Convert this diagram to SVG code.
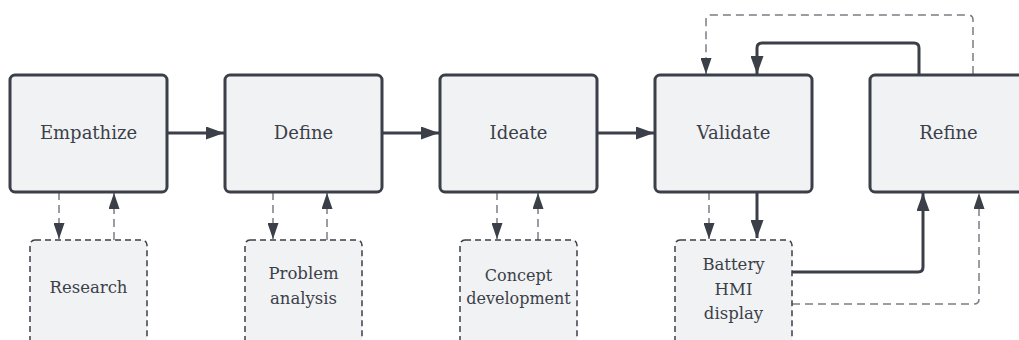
<svg xmlns="http://www.w3.org/2000/svg" width="1019" height="340" viewBox="0 0 1019 340">
<defs>
<style>
.main rect{fill:#f1f2f4;stroke:#3b3f48;stroke-width:3}
.sub rect{fill:#f1f2f4;stroke:#3b3f48;stroke-width:1.5;stroke-dasharray:6 4}
text{fill:#3b3f48;text-anchor:middle;font-family:"DejaVu Serif",serif}
.main text{font-size:18px}
.sub text{font-size:16.5px}
.sub text.sm{font-size:16px}
.solid{fill:none;stroke:#3b3f48;stroke-width:3;stroke-linejoin:round}
.dash{fill:none;stroke:#7b7e84;stroke-width:1.5;stroke-dasharray:8 5}
</style>
<marker id="ah" viewBox="0 0 18 13" refX="18" refY="6.5" markerWidth="18" markerHeight="13" markerUnits="userSpaceOnUse" orient="auto"><path d="M0,0L18,6.5L0,13Z" fill="#3b3f48"/></marker>
<marker id="ahs" viewBox="0 0 16 11" refX="16" refY="5.5" markerWidth="16" markerHeight="11" markerUnits="userSpaceOnUse" orient="auto"><path d="M0,0L16,5.5L0,11Z" fill="#3b3f48"/></marker>
</defs>
<g id="connectors">
<path class="solid" d="M167,133H224" marker-end="url(#ah)"/>
<path class="solid" d="M382,133H439" marker-end="url(#ah)"/>
<path class="solid" d="M597,133H654" marker-end="url(#ah)"/>
<path class="dash" d="M59,192V239" marker-end="url(#ahs)"/>
<path class="dash" d="M114,240V193" marker-end="url(#ahs)"/>
<path class="dash" d="M273,192V239" marker-end="url(#ahs)"/>
<path class="dash" d="M327,240V193" marker-end="url(#ahs)"/>
<path class="dash" d="M497,192V239" marker-end="url(#ahs)"/>
<path class="dash" d="M538,240V193" marker-end="url(#ahs)"/>
<path class="dash" d="M709,192V239" marker-end="url(#ahs)"/>
<path class="solid" d="M757,192V238" marker-end="url(#ah)"/>
<path class="solid" d="M919,74V48Q919,43 914,43H762Q757,43 757,48V74" marker-end="url(#ah)"/>
<path class="dash" d="M973,74V20Q973,15 968,15H711Q706,15 706,20V74" marker-end="url(#ahs)"/>
<path class="solid" d="M792,272H918Q923,272 923,267V193" marker-end="url(#ah)"/>
<path class="dash" d="M792,304H974Q979,304 979,299V193" marker-end="url(#ahs)"/>
</g>
<g id="empathize" class="main"><rect x="10" y="75" width="157" height="117" rx="5"/><text x="88.5" y="139">Empathize</text></g>
<g id="define" class="main"><rect x="225" y="75" width="157" height="117" rx="5"/><text x="303.5" y="139">Define</text></g>
<g id="ideate" class="main"><rect x="440" y="75" width="157" height="117" rx="5"/><text x="518.5" y="139">Ideate</text></g>
<g id="validate" class="main"><rect x="655" y="75" width="157" height="117" rx="5"/><text x="733.5" y="139">Validate</text></g>
<g id="refine" class="main"><rect x="870" y="75" width="157" height="117" rx="5"/><text x="948.5" y="139">Refine</text></g>
<g id="research" class="sub"><rect x="30" y="240" width="117" height="110" rx="5"/><text x="88.5" y="293">Research</text></g>
<g id="problem-analysis" class="sub"><rect x="245" y="240" width="117" height="110" rx="5"/><text x="303.5" y="279">Problem</text><text x="303.5" y="304">analysis</text></g>
<g id="concept-development" class="sub"><rect x="460" y="240" width="117" height="110" rx="5"/><text class="sm" x="518.5" y="281">Concept</text><text class="sm" x="518.5" y="304">development</text></g>
<g id="battery-hmi-display" class="sub"><rect x="675" y="240" width="117" height="110" rx="5"/><text x="733.5" y="270">Battery</text><text x="733.5" y="295">HMI</text><text x="733.5" y="319">display</text></g>
</svg>
